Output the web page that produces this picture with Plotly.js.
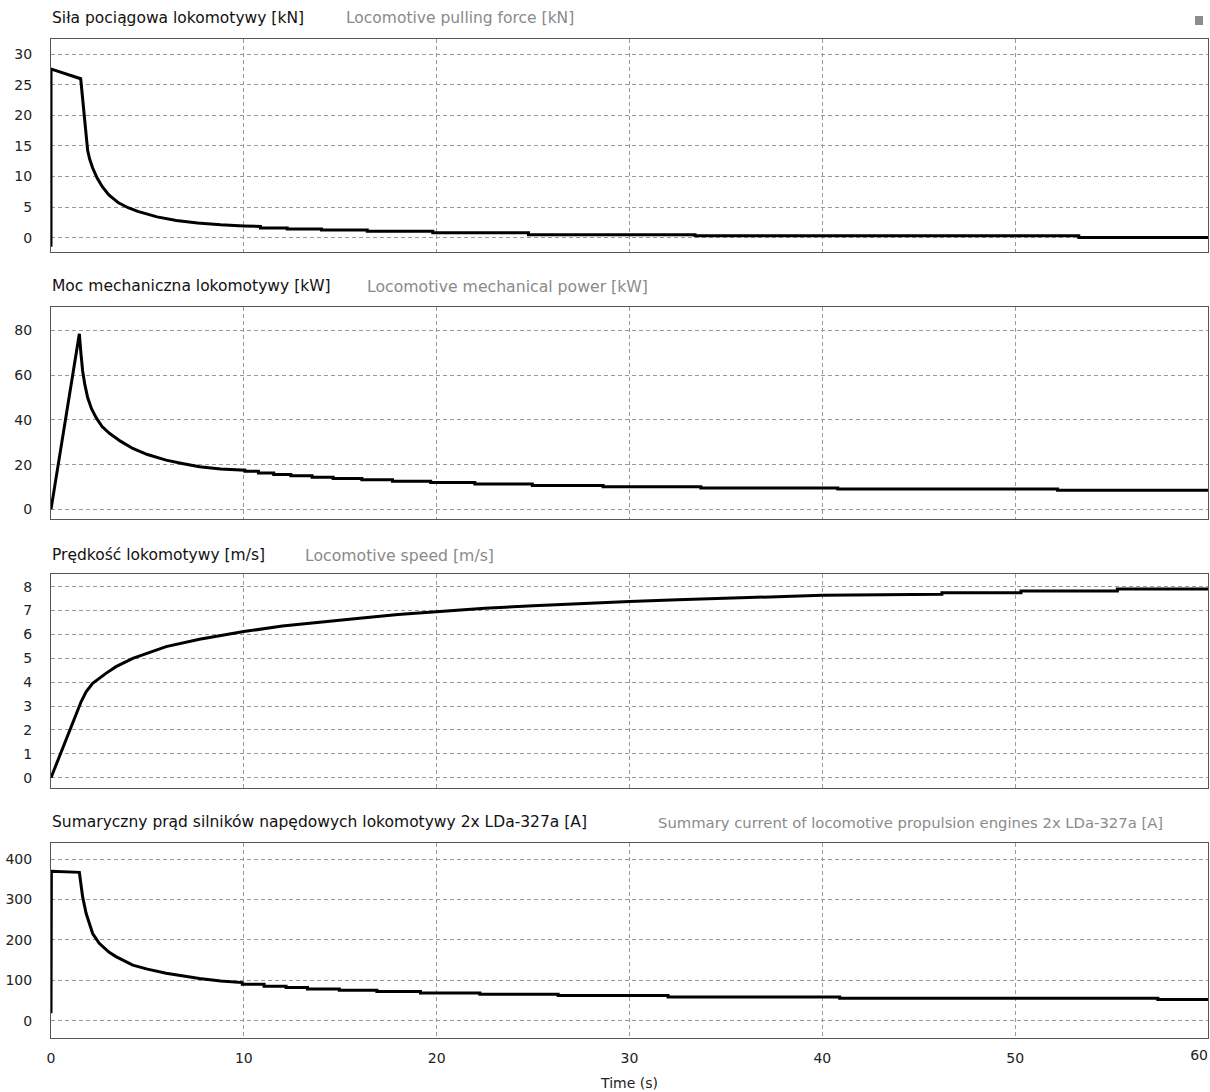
<!DOCTYPE html>
<html>
<head>
<meta charset="utf-8">
<script src="https://cdn.plot.ly/plotly-3.0.1.min.js"></script>
<style>
html,body{margin:0;padding:0;background:#fff;}
#chart{width:1210px;height:1092px;}
</style>
</head>
<body>
<div id="chart"></div>
<script>
// ---------- data ----------
const forceT = [0,0,1.54,1.6,1.7,1.8,1.9,2.0,2.16,2.4,2.67,3.0,3.5,4.0,4.5,5.5,6.5,7.6,8.8,10,10.86,10.86,12.25,12.25,14.03,14.03,16.4,16.4,19.8,19.8,24.76,24.76,33.4,33.4,53.3,53.3,60];
const forceV = [-1.5,27.6,26.0,24.0,20.0,16.5,14.3,12.9,11.4,9.7,8.3,7.0,5.7,4.9,4.3,3.4,2.8,2.4,2.1,1.93,1.85,1.6,1.6,1.43,1.43,1.24,1.24,1.06,1.06,0.8,0.8,0.5,0.5,0.3,0.3,0.05,0.05];

const powerT = [0,1.47,1.55,1.64,1.75,1.9,2.1,2.34,2.65,3.03,3.6,4.24,5.0,5.97,6.8,7.7,8.8,10.06,10.06,10.76,10.76,11.55,11.55,12.44,12.44,13.54,13.54,14.63,14.63,16.12,16.12,17.71,17.71,19.69,19.69,21.98,21.98,24.96,24.96,28.63,28.63,33.7,33.7,40.8,40.8,52.2,52.2,60];
const powerV = [0,78.5,70,62,56,50,45,41,37,34,30.5,27.2,24.5,22,20.5,19.0,18.0,17.5,17.0,17.0,16.2,16.2,15.6,15.6,15.0,15.0,14.4,14.4,13.8,13.8,13.2,13.2,12.6,12.6,12.0,12.0,11.3,11.3,10.7,10.7,10.1,10.1,9.5,9.5,9.1,9.1,8.5,8.5];

const speedT = [0,1.56,1.82,2.16,2.85,3.37,4.24,5.97,7.7,10,12,14,16,18,20,22.5,25,27.5,30,32.5,35,37.5,40,46.2,46.2,50.3,50.3,55.3,55.3,60];
const speedV = [0,3.18,3.6,3.95,4.37,4.65,5.0,5.49,5.8,6.12,6.35,6.53,6.68,6.83,6.96,7.1,7.2,7.3,7.38,7.45,7.52,7.58,7.64,7.68,7.75,7.75,7.82,7.82,7.9,7.9];

const currentT = [0,0.02,1.47,1.55,1.64,1.82,2.0,2.16,2.5,3.0,3.37,4.24,5.0,5.97,7.7,8.8,9.92,9.92,11.05,11.05,12.19,12.19,13.3,13.3,14.95,14.95,16.9,16.9,19.16,19.16,22.24,22.24,26.3,26.3,32,32,40.9,40.9,57.4,57.4,60];
const currentV = [19,370,367,340,307,266,238,216,192,170,159,138,128,118,105,99,95,91,91,86,86,83,83,79,79,76,76,73,73,69,69,66,66,63,63,59,59,56,56,53,53];

const xTickVals = [0,10,20,30,40,50,60];
const xTickText = ["0","10","20","30","40","50","60"];

const titlesPL = ["Siła pociągowa lokomotywy [kN]","Moc mechaniczna lokomotywy [kW]","Prędkość lokomotywy [m/s]","Sumaryczny prąd silników napędowych lokomotywy 2x LDa-327a [A]"];
const titlesEN = ["Locomotive pulling force [kN]","Locomotive mechanical power [kW]","Locomotive speed [m/s]","Summary current of locomotive propulsion engines 2x LDa-327a [A]"];
const xTitle = "Time (s)";

// ---------- layout geometry ----------
const W = 1210, H = 1092, L = 51, R = 2, T = 39, B = 54;
const px2x = p => (p - L) / (W - L - R);
const py2y = p => 1 - (p - T) / (H - T - B);

const FONT = "DejaVu Sans, Liberation Sans, sans-serif";
const panels = [
  {t: forceT,   v: forceV,   top: 39,  bot: 252,  range: [-2.34, 32.5], dtick: 5,   titleY: 18,  enX: 344, enSize: 15.5},
  {t: powerT,   v: powerV,   top: 307, bot: 519,  range: [-4.33, 90.5], dtick: 20,  titleY: 286, enX: 365, enSize: 15.7},
  {t: speedT,   v: speedV,   top: 574, bot: 788,  range: [-0.43, 8.53], dtick: 1,   titleY: 555, enX: 303, enSize: 15.7},
  {t: currentT, v: currentV, top: 843, bot: 1038, range: [-42, 439.5],  dtick: 100, titleY: 822, enX: 656, enSize: 14.8}
];

const gridStyle = {
  showgrid: true, gridcolor: "#9a9a9a", gridwidth: 1, griddash: "4px,3px",
  zeroline: false, showline: true, linecolor: "#555", linewidth: 1, mirror: true,
  ticks: "", tickfont: {family: FONT, size: 14, color: "#222"}
};

const data = [];
const layout = {
  width: W, height: H,
  paper_bgcolor: "#fff", plot_bgcolor: "#fff",
  margin: {l: L, r: R, t: T, b: B},
  showlegend: false,
  annotations: [],
  shapes: [{
    type: "rect", xref: "paper", yref: "paper",
    x0: px2x(1195), x1: px2x(1203), y0: py2y(25), y1: py2y(16),
    fillcolor: "#8c8c8c", line: {width: 0}
  }]
};

panels.forEach((p, i) => {
  const n = i + 1;
  const xa = n === 1 ? "x" : "x" + n;
  const ya = n === 1 ? "y" : "y" + n;
  data.push({
    type: "scatter", mode: "lines", x: p.t, y: p.v,
    xaxis: xa, yaxis: ya,
    line: {color: "#000", width: 3}, hoverinfo: "skip"
  });
  const xKey = n === 1 ? "xaxis" : "xaxis" + n;
  const yKey = n === 1 ? "yaxis" : "yaxis" + n;
  layout[xKey] = Object.assign({}, gridStyle, {
    domain: [0, 1], range: [0, 60],
    tickmode: "array", tickvals: xTickVals.slice(0, -1), ticktext: xTickText.slice(0, -1),
    anchor: ya, showticklabels: n === 4, ticklabelstandoff: 7
  });
  if (n === 4) {
    layout[xKey].title = {text: xTitle, font: {family: FONT, size: 14, color: "#222"}, standoff: 13};
  }
  layout[yKey] = Object.assign({}, gridStyle, {
    domain: [py2y(p.bot), py2y(p.top)], range: p.range, tick0: 0, dtick: p.dtick,
    anchor: xa, ticklabelstandoff: 15
  });
  layout.annotations.push({
    xref: "paper", yref: "paper", x: px2x(50), y: py2y(p.titleY),
    xanchor: "left", yanchor: "middle", showarrow: false,
    text: titlesPL[i], font: {family: FONT, size: 15.5, color: "#111"}
  });
  layout.annotations.push({
    xref: "paper", yref: "paper", x: px2x(p.enX), y: py2y(p.titleY),
    xanchor: "left", yanchor: "middle", showarrow: false,
    text: titlesEN[i], font: {family: FONT, size: p.enSize, color: "#8a8a8a"}
  });
});

// overlay axis carrying the last tick label, drawn to the left of its tick so it stays inside the page
data.push({type: "scatter", mode: "lines", x: [xTickVals[xTickVals.length - 1]], y: [null],
  xaxis: "x5", yaxis: "y4", hoverinfo: "skip", showlegend: false});
layout.xaxis5 = {
  overlaying: "x4", anchor: "y4", range: [0, 60], side: "bottom",
  tickmode: "array", tickvals: xTickVals.slice(-1), ticktext: xTickText.slice(-1),
  ticklabelposition: "outside left", ticks: "", showgrid: false, zeroline: false, showline: false,
  tickfont: {family: FONT, size: 14, color: "#222"}, ticklabelstandoff: 7
};

Plotly.newPlot("chart", data, layout, {staticPlot: true, displayModeBar: false});
</script>
</body>
</html>
